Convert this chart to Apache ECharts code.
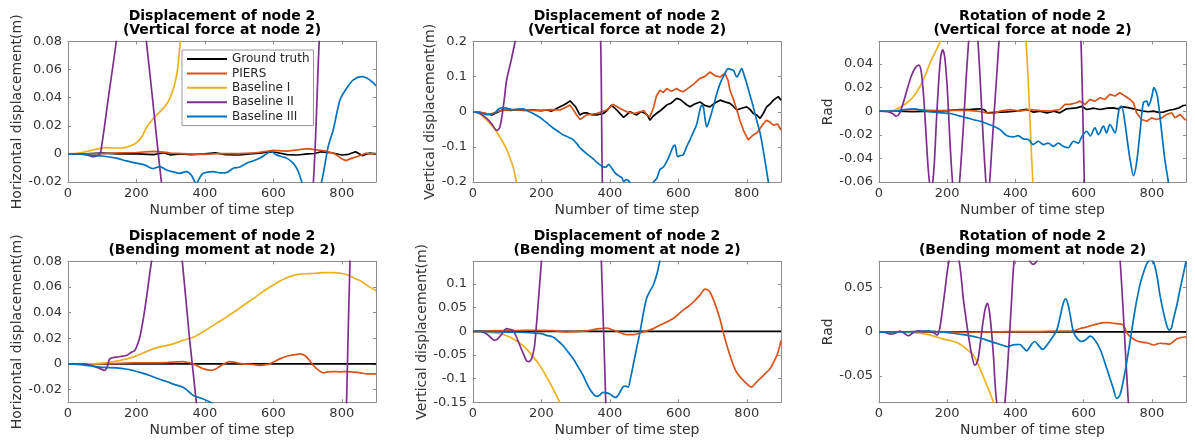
<!DOCTYPE html>
<html><head><meta charset="utf-8">
<script src="https://cdn.jsdelivr.net/npm/echarts@6/dist/echarts.min.js"></script>
<style>html,body{margin:0;padding:0;background:#fff}#c{width:1195px;height:444px}</style>
</head><body><div id="c"></div><script>
// ---------------- DATA ----------------
const seriesNames = ['Ground truth','PIERS','Baseline I','Baseline II','Baseline III'];
const xTicks = [0,200,400,600,800];
const titles = [
 'Displacement of node 2\n(Vertical force at node 2)',
 'Displacement of node 2\n(Vertical force at node 2)',
 'Rotation of node 2\n(Vertical force at node 2)',
 'Displacement of node 2\n(Bending moment at node 2)',
 'Displacement of node 2\n(Bending moment at node 2)',
 'Rotation of node 2\n(Bending moment at node 2)'
];
const yNames = ['Horizontal displacement(m)','Vertical displacement(m)','Rad','Horizontal displacement(m)','Vertical displacement(m)','Rad'];
const xName = 'Number of time step';
const yRanges = [[-0.02,0.08],[-0.2,0.2],[-0.06,0.059],[-0.03,0.08],[-0.15,0.148],[-0.08,0.08]];
const yTicks = [
 [-0.02,0,0.02,0.04,0.06,0.08],
 [-0.2,-0.1,0,0.1,0.2],
 [-0.06,-0.04,-0.02,0,0.02,0.04],
 [-0.02,0,0.02,0.04,0.06,0.08],
 [-0.15,-0.1,-0.05,0,0.05,0.1],
 [-0.05,0,0.05]
];

// Panel 1: horizontal displacement, vertical force
const p1_gt = [[0,0],[50,0],[100,0.0005],[150,0],[200,0],[250,-0.0005],[280,0.0008],[300,-0.0008],[330,0],[360,-0.0005],[400,0],[430,0.0008],[460,-0.0005],[500,-0.0008],[530,0],[560,0.0005],[590,0.0015],[610,0.001],[640,-0.0005],[670,-0.0008],[700,0],[720,0.0003],[740,0.0015],[770,0.0008],[800,-0.0008],[820,-0.0003],[840,0.0015],[860,-0.0012],[880,0.0005],[900,0]];
const p1_piers = [[0,0],[50,0],[100,0.0003],[150,0.0008],[200,0.001],[250,0.0018],[280,0.0012],[300,0.0005],[350,0],[400,-0.0003],[450,0.0003],[500,0.0002],[550,0.0008],[600,0.0025],[640,0.002],[670,0.0028],[700,0.0038],[720,0.003],[750,0.0022],[780,0],[800,-0.0035],[812,-0.0048],[830,-0.003],[850,-0.0015],[870,0.0005],[880,0],[900,0.0003]];
const p1_b1 = [[0,0],[30,0.0005],[60,0.002],[90,0.0038],[110,0.0045],[140,0.0042],[165,0.0045],[185,0.006],[200,0.0078],[215,0.012],[230,0.019],[245,0.024],[260,0.028],[275,0.0315],[290,0.036],[300,0.041],[310,0.048],[320,0.06],[328,0.08],[340,0.12],[360,0.2],[400,0.4],[500,1],[600,2],[900,5]];
const p1_b2 = [[0,0],[40,0],[60,-0.001],[75,-0.002],[90,-0.0005],[96,0.002],[118,0.04],[141,0.08],[160,0.12],[185,0.14],[210,0.115],[229,0.08],[251,0.03],[273,-0.02],[300,-0.07],[400,-0.25],[500,-0.35],[600,-0.3],[680,-0.12],[717,-0.02],[734,0.08],[760,0.2],[850,0.45],[900,0.55]];
const p1_b3 = [[0,0],[30,0],[63,-0.001],[100,-0.0015],[141,-0.003],[170,-0.005],[200,-0.0066],[225,-0.008],[249,-0.0105],[268,-0.009],[288,-0.0114],[310,-0.013],[327,-0.0138],[346,-0.0126],[360,-0.015],[375,-0.021],[385,-0.017],[395,-0.0138],[424,-0.0126],[445,-0.0135],[463,-0.0133],[483,-0.0102],[500,-0.0095],[522,-0.0066],[540,-0.005],[561,-0.003],[580,0],[592,0.0017],[609,-0.0007],[625,-0.002],[639,-0.003],[658,-0.0066],[672,-0.012],[683,-0.02],[700,-0.035],[720,-0.035],[741,-0.02],[760,0.005],[775,0.017],[795,0.0385],[815,0.047],[834,0.0527],[858,0.055],[873,0.054],[890,0.051],[900,0.0484]];

// Panel 2: vertical displacement, vertical force
const p2_gt = [[0,0],[20,-0.002],[40,-0.006],[55,-0.009],[70,-0.002],[88,0.006],[110,0.004],[130,0.006],[150,0.004],[175,0.005],[200,0.003],[215,0.005],[230,0.002],[250,0.012],[265,0.019],[275,0.025],[284,0.031],[292,0.022],[300,0.014],[312,-0.009],[322,-0.004],[332,-0.003],[345,-0.008],[361,-0.009],[381,-0.005],[393,0.005],[405,0.019],[420,0.005],[440,-0.016],[459,0],[478,-0.009],[490,0],[500,-0.003],[510,-0.01],[517,-0.024],[527,-0.012],[536,-0.005],[550,0.005],[566,0.019],[580,0.025],[595,0.038],[605,0.035],[614,0.028],[624,0.02],[634,0.014],[648,0.022],[663,0.028],[677,0.018],[692,0.014],[707,0.025],[722,0.033],[736,0.028],[751,0.024],[761,0.015],[771,0.005],[785,0.01],[800,0.014],[810,0.006],[819,-0.005],[830,-0.01],[839,-0.019],[848,-0.005],[858,0.014],[868,0.022],[878,0.033],[892,0.043],[900,0.033]];
const p2_piers = [[0,0],[20,-0.002],[40,-0.005],[55,-0.006],[75,0.002],[98,0.006],[120,0.005],[147,0.005],[170,0.004],[196,0.003],[225,0.006],[254,0.005],[274,0.014],[283,0.019],[293,0.006],[303,-0.01],[313,-0.022],[332,-0.009],[361,-0.005],[391,0.005],[410,0.021],[430,0.009],[449,0],[470,-0.005],[488,0],[500,0.003],[507,-0.009],[517,-0.014],[527,0.01],[536,0.045],[546,0.061],[556,0.055],[566,0.066],[580,0.058],[595,0.066],[605,0.06],[614,0.057],[630,0.068],[644,0.078],[655,0.088],[663,0.095],[677,0.1],[692,0.113],[707,0.103],[722,0.099],[736,0.109],[745,0.09],[751,0.061],[761,0.035],[771,0.005],[780,-0.025],[790,-0.052],[804,-0.08],[812,-0.072],[819,-0.066],[830,-0.06],[839,-0.047],[848,-0.035],[858,-0.024],[868,-0.03],[878,-0.038],[890,-0.035],[900,-0.052]];
const p2_b1 = [[0,0],[20,-0.006],[40,-0.024],[60,-0.045],[78,-0.071],[95,-0.1],[107,-0.128],[118,-0.16],[127,-0.2],[150,-0.3],[200,-0.6],[300,-1.5],[500,-4],[900,-10]];
const p2_b2 = [[0,0],[20,-0.005],[40,-0.019],[55,-0.035],[70,-0.053],[78,-0.045],[85,-0.01],[92,0.04],[98,0.089],[110,0.14],[123,0.2],[150,0.35],[200,0.55],[250,0.65],[300,0.6],[340,0.45],[365,0.3],[373,0.2],[378,-0.2],[390,-0.6],[450,-1.2],[600,-2],[900,-3]];
const p2_b3 = [[0,0],[20,-0.003],[40,-0.008],[55,-0.006],[64,-0.004],[75,0.008],[88,0.012],[100,0.01],[115,0.006],[127,0.007],[146,0.008],[160,0.002],[176,-0.005],[190,-0.013],[205,-0.023],[220,-0.035],[235,-0.047],[250,-0.057],[264,-0.066],[280,-0.073],[293,-0.08],[305,-0.093],[313,-0.103],[330,-0.118],[342,-0.127],[352,-0.135],[362,-0.144],[372,-0.152],[381,-0.157],[388,-0.158],[396,-0.15],[405,-0.16],[415,-0.174],[425,-0.182],[435,-0.188],[440,-0.198],[449,-0.193],[458,-0.2],[470,-0.215],[500,-0.23],[520,-0.21],[530,-0.197],[537,-0.19],[546,-0.165],[556,-0.158],[566,-0.142],[576,-0.12],[585,-0.099],[590,-0.095],[598,-0.128],[605,-0.125],[614,-0.123],[624,-0.1],[634,-0.08],[643,-0.06],[653,-0.038],[663,0.005],[668,0.018],[673,0.014],[678,-0.02],[683,-0.043],[692,-0.02],[702,0.014],[712,0.05],[722,0.08],[734,0.105],[746,0.123],[754,0.12],[761,0.118],[771,0.099],[778,0.11],[785,0.123],[792,0.105],[800,0.08],[810,0.045],[819,0.014],[829,-0.025],[839,-0.061],[850,-0.12],[863,-0.2],[880,-0.3],[900,-0.42]];

// Panel 3: rotation, vertical force
const p3_gt = [[0,0],[50,0],[100,-0.0005],[160,0],[200,0.0005],[238,0.0014],[270,0.0015],[297,0.002],[310,0.001],[316,-0.0014],[340,-0.001],[375,-0.0006],[400,0],[433,0.0015],[453,-0.0008],[472,0],[492,-0.0014],[513,0],[530,-0.0014],[550,0.002],[579,0.0028],[595,0.004],[609,0.0014],[630,0.0025],[648,0.0014],[670,0.0025],[687,0.0028],[700,0.002],[716,0.0037],[730,0.003],[746,0.002],[760,0.001],[775,0],[790,-0.0005],[804,0],[820,-0.001],[833,-0.0008],[850,0.0008],[863,0.0014],[880,0.0028],[892,0.0048],[900,0.005]];
const p3_piers = [[0,0],[50,0.0003],[92,0.0014],[130,0.0008],[180,0.0005],[238,0.0008],[270,0.0005],[300,-0.0005],[316,-0.0014],[336,-0.002],[355,0],[384,0.0014],[413,0],[443,0.0014],[472,0.0005],[501,0],[530,0.0014],[545,0.0057],[560,0.0057],[579,0.0071],[589,0.0085],[604,0.0057],[618,0.0099],[633,0.0085],[648,0.0113],[662,0.0099],[677,0.0142],[692,0.0128],[706,0.0156],[721,0.0128],[736,0.0099],[746,0.0071],[755,-0.0014],[770,-0.0071],[785,-0.0085],[799,-0.0057],[814,-0.0071],[829,-0.0057],[843,-0.0028],[858,-0.0014],[868,-0.0057],[882,-0.0028],[897,-0.0071],[900,-0.0075]];
const p3_b1 = [[0,0],[43,0.0008],[60,0.003],[82,0.0071],[100,0.012],[121,0.0213],[135,0.03],[150,0.041],[165,0.05],[180,0.0596],[220,0.1],[300,0.16],[360,0.14],[400,0.1],[420,0.08],[431,0.06],[451,-0.06],[470,-0.15],[600,-0.6],[900,-1.5]];
const p3_b2 = [[0,0],[25,-0.0005],[40,-0.002],[50,-0.0043],[60,-0.002],[70,0.006],[82,0.018],[95,0.03],[107,0.037],[117,0.039],[124,0.033],[131,0.012],[138,-0.02],[144,-0.048],[150,-0.065],[153,-0.068],[156,-0.065],[162,-0.045],[168,-0.01],[175,0.025],[181,0.046],[187,0.052],[193,0.045],[200,0.02],[207,-0.02],[213,-0.05],[219,-0.07],[226,-0.08],[233,-0.07],[240,-0.045],[248,-0.01],[256,0.03],[263,0.06],[270,0.085],[277,0.093],[284,0.085],[290,0.06],[297,0.025],[304,-0.015],[310,-0.045],[315,-0.065],[319,-0.07],[323,-0.065],[330,-0.035],[338,0.0],[345,0.03],[352,0.06],[380,0.2],[450,0.4],[520,0.4],[570,0.2],[592,0.06],[602,-0.06],[620,-0.25],[900,-1]];
const p3_b3 = [[0,0],[30,0],[60,0.0005],[80,0.0015],[102,0.002],[130,0.0005],[160,-0.0008],[185,-0.0015],[209,-0.002],[235,-0.004],[258,-0.0057],[280,-0.0075],[297,-0.0085],[315,-0.0105],[336,-0.0128],[355,-0.0156],[374,-0.0207],[394,-0.0218],[408,-0.0207],[423,-0.0235],[438,-0.024],[452,-0.0283],[467,-0.0255],[482,-0.0283],[496,-0.027],[511,-0.0298],[526,-0.027],[540,-0.0298],[555,-0.031],[570,-0.0255],[584,-0.027],[594,-0.0218],[609,-0.017],[619,-0.021],[633,-0.0141],[643,-0.0198],[658,-0.0127],[667,-0.0184],[677,-0.0113],[692,-0.0184],[700,-0.005],[705,0.003],[711,0.0043],[721,-0.0099],[728,-0.025],[736,-0.041],[746,-0.0546],[755,-0.044],[765,-0.0184],[775,0.0071],[785,0.0085],[790,0.0043],[799,0.0113],[806,0.0199],[816,0.0127],[829,-0.0184],[838,-0.041],[848,-0.0596],[860,-0.085],[880,-0.12],[900,-0.15]];

// Panel 4: horizontal displacement, bending moment
const p4_gt = [[0,0],[900,0]];
const p4_piers = [[0,0],[93,0],[150,0.0003],[190,0.0008],[240,0.0008],[288,0.001],[336,0.0018],[352,0.001],[366,0],[385,-0.0026],[405,-0.0045],[419,-0.005],[432,-0.004],[444,-0.0018],[460,0.0005],[473,0.0018],[490,0.001],[512,0],[540,-0.0005],[561,-0.0013],[575,-0.0008],[590,0],[605,0.002],[619,0.0039],[635,0.0055],[649,0.0065],[665,0.0072],[678,0.0078],[692,0.0065],[705,0.003],[717,-0.0013],[730,-0.0045],[746,-0.007],[760,-0.0062],[775,-0.006],[795,-0.0062],[814,-0.006],[835,-0.0065],[853,-0.007],[875,-0.0078],[900,-0.0078]];
const p4_b1 = [[0,0],[73,0],[100,0.0005],[122,0.0013],[150,0.0025],[190,0.0052],[220,0.0085],[249,0.0117],[280,0.0138],[307,0.0156],[336,0.0183],[366,0.0208],[395,0.025],[424,0.03],[454,0.035],[483,0.04],[512,0.0455],[541,0.0508],[570,0.0565],[600,0.0615],[630,0.066],[658,0.069],[690,0.0703],[717,0.0705],[745,0.0712],[775,0.0712],[800,0.0705],[814,0.0697],[835,0.067],[853,0.065],[875,0.061],[900,0.057]];
const p4_b2 = [[0,0],[44,0],[65,-0.001],[83,-0.0026],[100,-0.0045],[107,-0.0052],[115,-0.002],[122,0.0039],[141,0.0052],[160,0.006],[171,0.0065],[185,0.009],[195,0.0104],[203,0.015],[210,0.0208],[220,0.035],[229,0.0508],[244,0.08],[270,0.12],[300,0.13],[320,0.11],[334,0.08],[355,0.02],[375,-0.03],[400,-0.1],[600,-0.5],[800,-0.2],[814,-0.03],[824,0.08],[850,0.3],[900,0.6]];
const p4_b3 = [[0,0],[44,-0.0008],[93,-0.0026],[141,-0.0031],[170,-0.004],[190,-0.0052],[215,-0.007],[239,-0.0091],[265,-0.0118],[288,-0.0138],[310,-0.016],[336,-0.0182],[350,-0.021],[366,-0.0247],[380,-0.026],[395,-0.0274],[416,-0.03],[450,-0.036],[600,-0.06],[900,-0.1]];

// Panel 5: vertical displacement, bending moment
const p5_gt = [[0,0],[900,0]];
const p5_piers = [[0,0],[78,0.0014],[130,0.0018],[176,0.002],[234,0.0014],[273,-0.0014],[300,-0.0005],[332,0.0007],[355,0.004],[371,0.0057],[390,0.007],[405,0.004],[419,0],[435,-0.004],[449,-0.007],[468,-0.007],[485,-0.004],[497,-0.0014],[512,0.002],[527,0.0057],[546,0.013],[566,0.0199],[585,0.027],[600,0.036],[614,0.0447],[630,0.053],[644,0.062],[663,0.0766],[678,0.0894],[685,0.088],[692,0.0837],[702,0.068],[712,0.048],[722,0.025],[731,-0.0014],[741,-0.028],[751,-0.051],[760,-0.07],[770,-0.0865],[785,-0.1],[800,-0.111],[814,-0.118],[825,-0.11],[839,-0.1],[853,-0.09],[868,-0.079],[880,-0.063],[888,-0.051],[895,-0.035],[900,-0.019]];
const p5_b1 = [[0,0],[40,-0.0015],[78,-0.005],[100,-0.01],[117,-0.0156],[137,-0.025],[156,-0.037],[175,-0.053],[195,-0.072],[210,-0.09],[224,-0.108],[240,-0.13],[254,-0.151],[300,-0.23],[400,-0.5],[900,-2]];
const p5_b2 = [[0,0],[20,0],[39,-0.005],[50,-0.012],[63,-0.019],[72,-0.016],[85,-0.005],[98,0.0057],[108,0.004],[117,0.002],[127,-0.012],[137,-0.03],[147,-0.047],[156,-0.0617],[163,-0.064],[171,-0.058],[176,-0.045],[180,-0.03],[185,0.01],[190,0.055],[200,0.149],[220,0.35],[300,0.6],[340,0.5],[365,0.3],[375,0.149],[388,-0.151],[400,-0.4],[600,-1.5],[900,-3]];
const p5_b3 = [[0,0],[78,-0.0014],[130,-0.002],[176,-0.0035],[200,-0.005],[215,-0.0085],[234,-0.012],[248,-0.02],[263,-0.03],[278,-0.044],[293,-0.058],[307,-0.075],[322,-0.0936],[331,-0.108],[341,-0.122],[351,-0.132],[361,-0.1376],[370,-0.135],[380,-0.129],[390,-0.13],[400,-0.1326],[408,-0.137],[417,-0.14],[424,-0.135],[429,-0.129],[439,-0.117],[446,-0.116],[453,-0.118],[460,-0.1],[468,-0.072],[478,-0.036],[488,-0.0014],[497,0.035],[507,0.0695],[517,0.085],[527,0.098],[537,0.12],[546,0.149],[560,0.2],[600,0.35],[900,1]];

// Panel 6: rotation, bending moment
const p6_gt = [[0,0],[900,0]];
const p6_piers = [[0,0],[100,0],[180,-0.0003],[258,-0.0007],[300,-0.0003],[355,0],[420,0.0003],[470,0.0003],[512,0.0007],[550,0.0007],[570,0.001],[590,0.0037],[605,0.005],[619,0.0067],[640,0.009],[658,0.0105],[672,0.0105],[687,0.0097],[700,0.009],[712,0.0086],[720,0.005],[726,-0.0007],[735,-0.005],[746,-0.0082],[760,-0.011],[775,-0.012],[790,-0.013],[804,-0.015],[814,-0.014],[824,-0.013],[840,-0.0135],[853,-0.0139],[863,-0.011],[873,-0.0082],[885,-0.0065],[900,-0.0056]];
const p6_b1 = [[0,0],[40,0],[91,-0.0008],[140,-0.003],[165,-0.0055],[189,-0.0083],[210,-0.01],[228,-0.0121],[245,-0.016],[257,-0.0197],[267,-0.023],[277,-0.0265],[286,-0.033],[296,-0.0417],[306,-0.051],[316,-0.0606],[326,-0.07],[335,-0.0795],[360,-0.11],[400,-0.2],[900,-1.5]];
const p6_b2 = [[0,0],[15,-0.0005],[37,-0.0027],[50,-0.001],[62,0.0008],[75,-0.002],[86,-0.0045],[100,-0.001],[115,0.001],[130,0.0005],[144,0.0008],[160,-0.001],[171,-0.0038],[175,-0.001],[179,0.0057],[186,0.025],[194,0.049],[203,0.076],[212,0.088],[220,0.092],[228,0.088],[235,0.08],[241,0.062],[247,0.038],[255,0.015],[262,-0.0038],[272,-0.0265],[281,-0.0379],[286,-0.036],[291,-0.03],[298,-0.01],[305,0.0114],[312,0.027],[318,0.0322],[324,0.022],[330,0],[336,-0.03],[340,-0.057],[345,-0.08],[357,-0.11],[369,-0.08],[379,-0.027],[389,0.038],[396,0.08],[410,0.11],[425,0.1],[440,0.082],[452,0.0766],[465,0.082],[480,0.11],[600,0.25],[690,0.15],[707,0.08],[731,-0.08],[760,-0.25],[900,-0.6]];
const p6_b3 = [[0,0],[80,0],[140,0.0008],[198,-0.0008],[257,-0.0038],[290,-0.0065],[316,-0.0095],[335,-0.012],[355,-0.0144],[379,-0.017],[389,-0.0152],[400,-0.0145],[413,-0.0144],[423,-0.018],[433,-0.0216],[441,-0.018],[448,-0.0137],[457,-0.011],[467,-0.0152],[480,-0.02],[492,-0.0152],[506,-0.0076],[521,0.0019],[531,0.017],[540,0.032],[547,0.0375],[553,0.033],[560,0.02],[570,0],[582,-0.008],[594,-0.011],[606,-0.009],[619,-0.005],[630,-0.008],[648,-0.0195],[668,-0.042],[687,-0.0645],[697,-0.0756],[706,-0.072],[716,-0.056],[726,-0.035],[736,-0.011],[746,0.014],[756,0.0367],[766,0.055],[775,0.0667],[785,0.077],[795,0.082],[805,0.079],[815,0.063],[824,0.041],[834,0.022],[844,0.0067],[851,0.002],[857,0.004],[863,0.0142],[873,0.03],[883,0.049],[892,0.065],[900,0.08]];

const panelData = [
 [p1_gt,p1_piers,p1_b1,p1_b2,p1_b3],
 [p2_gt,p2_piers,p2_b1,p2_b2,p2_b3],
 [p3_gt,p3_piers,p3_b1,p3_b2,p3_b3],
 [p4_gt,p4_piers,p4_b1,p4_b2,p4_b3],
 [p5_gt,p5_piers,p5_b1,p5_b2,p5_b3],
 [p6_gt,p6_piers,p6_b1,p6_b2,p6_b3]
];

// ---------------- LAYOUT / STYLE ----------------
const colors = ['#000000','#D95319','#EDB120','#7E2F8E','#0072BD'];
const FONT = 'DejaVu Sans';
const AX = '#8c8c8c';
const TXT = '#333333';
const layout = [
 {left:68, top:41.5, width:308, height:140.5, yGap:43},
 {left:473, top:41.5, width:308, height:140.5, yGap:35},
 {left:879, top:41.5, width:307, height:140.5, yGap:43},
 {left:68, top:261.3, width:308, height:141, yGap:43},
 {left:473, top:261.3, width:308, height:141, yGap:39},
 {left:879, top:261.3, width:307, height:141, yGap:44}
];
const titleTops = [9.5,9.5,9.5,229.5,229.5,229.5];

function fmt(v){ return String(+v.toFixed(4)); }

const grids=[], xAxes=[], yAxes=[], series=[], titleArr=[];
layout.forEach((L,i)=>{
  grids.push({left:L.left, top:L.top, width:L.width, height:L.height, containLabel:false});
  const line = {show:true, onZero:false, lineStyle:{color:AX, width:1}};
  const tick = (vals)=>({show:true, inside:true, length:3, customValues:vals, lineStyle:{color:AX, width:1}});
  xAxes.push({type:'value', gridIndex:i, min:0, max:900, position:'bottom',
    axisLine:line, axisTick:tick(xTicks), splitLine:{show:false},
    axisLabel:{customValues:xTicks, margin:5, fontSize:13, color:TXT, fontFamily:FONT, formatter:fmt},
    name:xName, nameLocation:'middle', nameGap:21,
    nameTextStyle:{fontSize:14, color:TXT, fontFamily:FONT}});
  xAxes.push({type:'value', gridIndex:i, min:0, max:900, position:'top',
    axisLine:line, axisTick:tick(xTicks), splitLine:{show:false}, axisLabel:{show:false}});
  const [ymin,ymax] = yRanges[i];
  yAxes.push({type:'value', gridIndex:i, min:ymin, max:ymax, position:'left',
    axisLine:line, axisTick:tick(yTicks[i]), splitLine:{show:false},
    axisLabel:{customValues:yTicks[i], margin:6, fontSize:13, color:TXT, fontFamily:FONT, formatter:fmt},
    name:yNames[i], nameLocation:'middle', nameGap:L.yGap, nameRotate:90,
    nameTextStyle:{fontSize:14, color:TXT, fontFamily:FONT}});
  yAxes.push({type:'value', gridIndex:i, min:ymin, max:ymax, position:'right',
    axisLine:line, axisTick:tick(yTicks[i]), splitLine:{show:false}, axisLabel:{show:false}});
  titleArr.push({text:titles[i], left:L.left + L.width/2, top:titleTops[i], textAlign:'center', padding:0,
    textStyle:{fontSize:14, fontWeight:'bold', color:'#000', fontFamily:FONT, lineHeight:14}});
  panelData[i].forEach((d,j)=>{
    const noisy = (j<=1 && i<3);
    series.push({type:'line', name:seriesNames[j], xAxisIndex:2*i, yAxisIndex:2*i, data:d,
      symbol:'none', showSymbol:false, clip:true, silent:true,
      smooth: noisy ? false : 0.3,
      lineStyle:{color:colors[j], width:1.7}, itemStyle:{color:colors[j]},
      emphasis:{disabled:true}});
  });
});

const chart = echarts.init(document.getElementById('c'), null, {renderer:'canvas'});
chart.setOption({
  animation:false,
  backgroundColor:'#ffffff',
  title:titleArr,
  grid:grids, xAxis:xAxes, yAxis:yAxes, series:series,
  legend:{data:seriesNames.map((n)=>({name:n, icon:'rect'})), orient:'vertical', left:182, top:50, padding:[3,4,3,5],
    itemWidth:40, itemHeight:2, itemGap:2.4, backgroundColor:'#fff', borderColor:'#999', borderWidth:1,
    textStyle:{fontSize:12, color:'#262626', fontFamily:FONT, lineHeight:12}, selectedMode:false}
});
</script></body></html>
